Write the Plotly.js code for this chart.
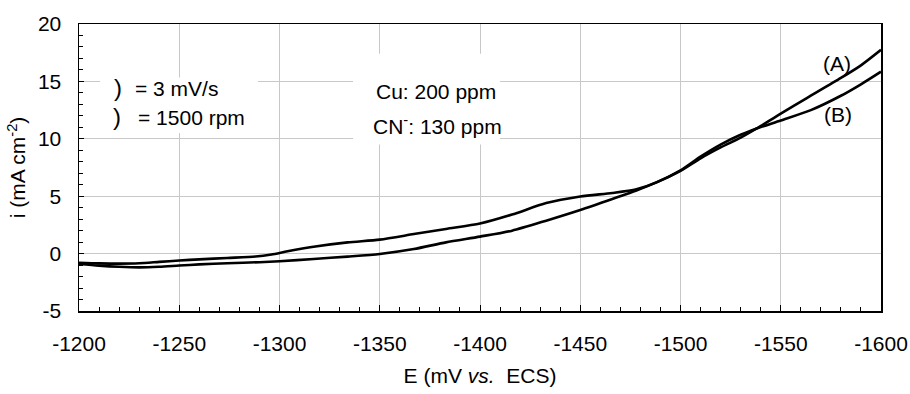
<!DOCTYPE html>
<html>
<head>
<meta charset="utf-8">
<script src="https://cdn.plot.ly/plotly-3.0.1.min.js"></script>
<style>
  html, body { margin: 0; padding: 0; background: #fff; }
  #chart { width: 910px; height: 394px; }
</style>
</head>
<body>
<div id="chart"></div>
<script>
// Curve (A): lower in the middle, upper at -1600 mV
const E_A = [-1200, -1210, -1220, -1230, -1240, -1250, -1260, -1274, -1290, -1300, -1317, -1334, -1350, -1367, -1383, -1400, -1416, -1433, -1450, -1466, -1478, -1488, -1500, -1510, -1520, -1530, -1538, -1550, -1563, -1580, -1590, -1600];
const I_A = [-0.9, -1.05, -1.15, -1.2, -1.15, -1.04, -0.94, -0.84, -0.75, -0.67, -0.47, -0.26, -0.03, 0.4, 0.98, 1.48, 2.0, 2.87, 3.8, 4.76, 5.5, 6.2, 7.2, 8.3, 9.25, 10.1, 10.9, 12.2, 13.55, 15.3, 16.4, 17.75];

// Curve (B): upper in the middle, lower at -1600 mV
const E_B = [-1200, -1210, -1220, -1230, -1240, -1250, -1260, -1274, -1288, -1296, -1304, -1317, -1334, -1350, -1367, -1383, -1400, -1416, -1433, -1450, -1466, -1478, -1488, -1500, -1510, -1520, -1530, -1538, -1550, -1565, -1580, -1590, -1600];
const I_B = [-0.8, -0.85, -0.87, -0.84, -0.72, -0.6, -0.5, -0.38, -0.26, -0.08, 0.2, 0.6, 0.98, 1.22, 1.7, 2.15, 2.62, 3.4, 4.4, 4.97, 5.28, 5.6, 6.2, 7.25, 8.45, 9.5, 10.35, 10.9, 11.6, 12.5, 13.75, 14.75, 15.85];

const X_TICKS = [-1200, -1250, -1300, -1350, -1400, -1450, -1500, -1550, -1600];
const X_TICK_TEXT = ['-1200', '-1250', '-1300', '-1350', '-1400', '-1450', '-1500', '-1550', '-1600'];
const Y_TICKS = [-5, 0, 5, 10, 15, 20];
const Y_TICK_TEXT = ['-5', '0', '5', '10', '15', '20'];

const FONT = 'Arial, "Liberation Sans", sans-serif';
const FS = 21;

const lineStyle = { color: '#000', width: 2.6, shape: 'spline', smoothing: 0.7 };

const traces = [
  { x: E_A, y: I_A, mode: 'lines', line: lineStyle, name: '(A)', hoverinfo: 'skip' },
  { x: E_B, y: I_B, mode: 'lines', line: lineStyle, name: '(B)', hoverinfo: 'skip' }
];

const annFont = { family: FONT, size: FS, color: '#000' };

const layout = {
  width: 910, height: 394,
  margin: { l: 79, r: 29, t: 24, b: 83 },
  paper_bgcolor: '#fff', plot_bgcolor: '#fff',
  showlegend: false,
  font: { family: FONT, size: FS, color: '#000' },
  xaxis: {
    range: [-1200, -1600],
    tickvals: X_TICKS, ticktext: X_TICK_TEXT,
    ticks: 'inside', ticklen: 6, tickwidth: 1, tickcolor: '#000',
    minor: { dtick: 10, ticks: 'inside', ticklen: 4, tickcolor: '#000', showgrid: false },
    showgrid: true, gridcolor: '#c8c8c8', gridwidth: 1,
    zeroline: false,
    showline: true, linecolor: '#000', linewidth: 1.5, mirror: true,
    tickfont: { family: FONT, size: FS },
    ticklabelstandoff: 13,
    title: { text: 'E (mV <i>vs.</i>  ECS)', font: { family: FONT, size: FS }, standoff: 14 },
    automargin: false
  },
  yaxis: {
    range: [-5, 20],
    tickvals: Y_TICKS, ticktext: Y_TICK_TEXT,
    ticks: 'inside', ticklen: 5, tickwidth: 1, tickcolor: '#000',
    minor: { dtick: 1, ticks: 'inside', ticklen: 4, tickcolor: '#000', showgrid: false },
    showgrid: true, gridcolor: '#c8c8c8', gridwidth: 1,
    zeroline: false,
    showline: true, linecolor: '#000', linewidth: 1.5, mirror: true,
    tickfont: { family: FONT, size: FS },
    ticklabelstandoff: 12,
    title: { text: 'i (mA cm<sup>-2</sup>)', font: { family: FONT, size: FS }, standoff: 6 },
    automargin: false
  },
  shapes: [
    { type: 'rect', xref: 'x', yref: 'y', x0: -1210.5, x1: -1289.3, y0: 10.5, y1: 15.33,
      fillcolor: '#fff', line: { width: 0 }, layer: 'between' },
    { type: 'rect', xref: 'x', yref: 'y', x0: -1336.7, x1: -1410, y0: 9.5, y1: 17.4,
      fillcolor: '#fff', line: { width: 0 }, layer: 'between' }
  ],
  annotations: [
    { x: -1219.5, y: 14.5, xref: 'x', yref: 'y', text: ')', showarrow: false, font: { family: FONT, size: 24, color: '#000' } },
    { x: -1226.9, y: 14.4, xref: 'x', yref: 'y', text: '= 3 mV/s', xanchor: 'left', showarrow: false, font: annFont },
    { x: -1219, y: 11.95, xref: 'x', yref: 'y', text: ')', showarrow: false, font: { family: FONT, size: 24, color: '#000' } },
    { x: -1228.4, y: 11.85, xref: 'x', yref: 'y', text: '= 1500 rpm', xanchor: 'left', showarrow: false, font: annFont },
    { x: -1378.3, y: 14.1, xref: 'x', yref: 'y', text: 'Cu: 200 ppm', showarrow: false, font: annFont },
    { x: -1378.6, y: 11.2, xref: 'x', yref: 'y', text: 'CN<sup>-</sup>: 130 ppm', showarrow: false, font: annFont },
    { x: -1578, y: 16.6, xref: 'x', yref: 'y', text: '(A)', showarrow: false, font: annFont },
    { x: -1578.5, y: 12.1, xref: 'x', yref: 'y', text: '(B)', showarrow: false, font: annFont }
  ]
};

Plotly.newPlot('chart', traces, layout, { staticPlot: true, displayModeBar: false });
</script>
</body>
</html>
